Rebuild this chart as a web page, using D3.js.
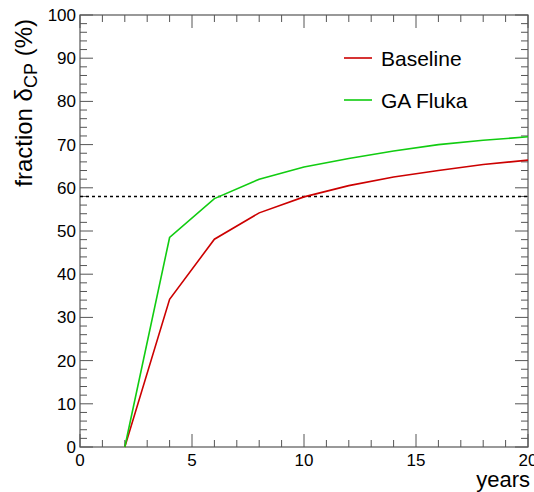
<!DOCTYPE html>
<html>
<head>
<meta charset="utf-8">
<script src="https://cdn.jsdelivr.net/npm/d3@7"></script>
<style>
  body { margin: 0; background: #fff; }
  svg { display: block; font-family: "Liberation Sans", Arial, sans-serif; }
</style>
</head>
<body>
<div id="chart"></div>
<script>
// data
const years = [2, 4, 6, 8, 10, 12, 14, 16, 18, 20];
const baseline = [0, 34.2, 48.1, 54.2, 57.9, 60.5, 62.5, 64.0, 65.4, 66.4];
const gaFluka = [0, 48.5, 57.5, 62.0, 64.8, 66.8, 68.5, 70.0, 71.0, 71.8];
const threshold = 58;
const seriesNames = ["Baseline", "GA Fluka"];
const seriesColors = ["#cc0000", "#11cc11"];

const width = 534, height = 492;
const margin = { top: 15, right: 6, bottom: 45, left: 80 };
const innerW = width - margin.left - margin.right;
const innerH = height - margin.top - margin.bottom;
const axisColor = "#555";

const svg = d3.select("#chart").append("svg")
    .attr("width", width)
    .attr("height", height);

const g = svg.append("g")
    .attr("transform", `translate(${margin.left},${margin.top})`);

const x = d3.scaleLinear().domain([0, 20]).range([0, innerW]);
const y = d3.scaleLinear().domain([0, 100]).range([innerH, 0]);

// ROOT-like ticks: majors + minors on all four sides
function drawTicks(vals, isX, len, side) {
    vals.forEach(v => {
        let x1, y1, x2, y2;
        if (isX) {
            x1 = x2 = x(v);
            if (side === "bottom") { y1 = innerH; y2 = innerH - len; }
            else { y1 = 0; y2 = len; }
        } else {
            y1 = y2 = y(v);
            if (side === "left") { x1 = 0; x2 = len; }
            else { x1 = innerW; x2 = innerW - len; }
        }
        g.append("line")
            .attr("x1", x1).attr("y1", y1).attr("x2", x2).attr("y2", y2)
            .attr("stroke", axisColor).attr("stroke-width", 1);
    });
}

const xMajor = d3.range(0, 21, 5);
const xMinor = d3.range(0, 21, 1).filter(v => v % 5 !== 0);
const yMajor = d3.range(0, 101, 10);
const yMinor = d3.range(0, 101, 2).filter(v => v % 10 !== 0);

drawTicks(xMajor, true, 13, "bottom");
drawTicks(xMinor, true, 7, "bottom");
drawTicks(xMajor, true, 13, "top");
drawTicks(xMinor, true, 7, "top");
drawTicks(yMajor, false, 13, "left");
drawTicks(yMinor, false, 7, "left");
drawTicks(yMajor, false, 13, "right");
drawTicks(yMinor, false, 7, "right");

// frame
g.append("rect")
    .attr("width", innerW).attr("height", innerH)
    .attr("fill", "none")
    .attr("stroke", axisColor)
    .attr("stroke-width", 1.2);

// tick labels
g.selectAll("text.xlab")
    .data(xMajor)
    .join("text")
    .attr("class", "xlab")
    .attr("x", d => x(d))
    .attr("y", innerH + 19)
    .attr("text-anchor", "middle")
    .style("font-size", "17px")
    .text(d => d);

g.selectAll("text.ylab")
    .data(yMajor)
    .join("text")
    .attr("class", "ylab")
    .attr("x", -4)
    .attr("y", d => y(d) + 6)
    .attr("text-anchor", "end")
    .style("font-size", "17px")
    .text(d => d);

// axis titles
svg.append("text")
    .attr("x", width - 4)
    .attr("y", 487)
    .attr("text-anchor", "end")
    .style("font-size", "22px")
    .text("years");

const yTitle = svg.append("text")
    .attr("transform", `translate(32,19) rotate(-90)`)
    .attr("text-anchor", "end")
    .style("font-size", "24px");
yTitle.append("tspan").text("fraction δ");
yTitle.append("tspan").attr("dy", 5).style("font-size", "18px").text("CP");
yTitle.append("tspan").attr("dy", -5).text(" (%)");

// threshold line
g.append("line")
    .attr("x1", 0).attr("x2", innerW)
    .attr("y1", y(threshold)).attr("y2", y(threshold))
    .attr("stroke", "#000")
    .attr("stroke-width", 1.5)
    .attr("stroke-dasharray", "3,3");

// series
const line = d3.line()
    .x((d, i) => x(years[i]))
    .y(d => y(d));

[baseline, gaFluka].forEach((vals, k) => {
    g.append("path")
        .datum(vals)
        .attr("d", line)
        .attr("fill", "none")
        .attr("stroke", seriesColors[k])
        .attr("stroke-width", 1.6);
});

// legend
seriesNames.forEach((name, k) => {
    const ly = 58 + k * 42;
    svg.append("line")
        .attr("x1", 344).attr("x2", 372)
        .attr("y1", ly).attr("y2", ly)
        .attr("stroke", seriesColors[k])
        .attr("stroke-width", 1.6);
    svg.append("text")
        .attr("x", 381)
        .attr("y", ly + 8)
        .style("font-size", "21px")
        .text(name);
});
</script>
</body>
</html>
